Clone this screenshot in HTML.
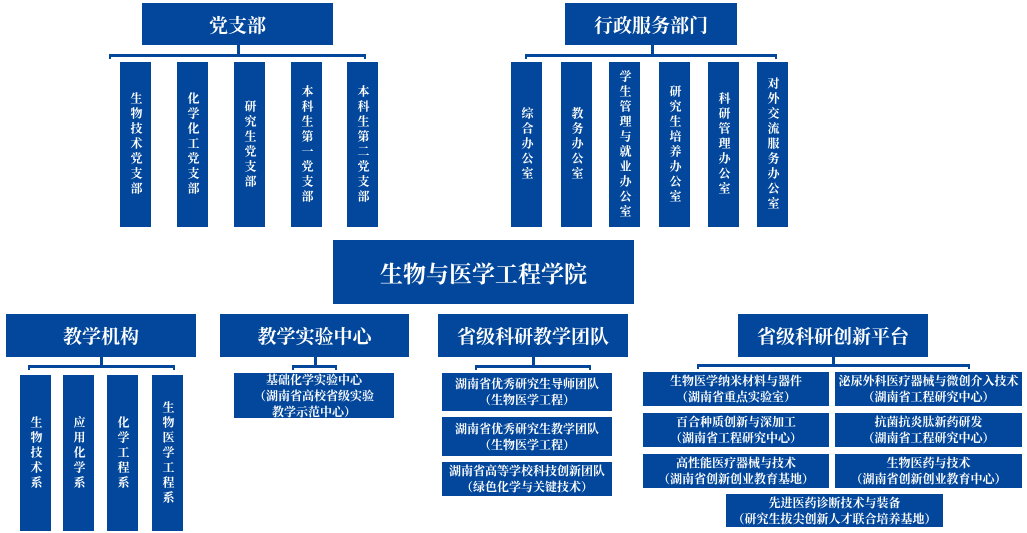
<!DOCTYPE html>
<html><head><meta charset="utf-8"><style>
body{margin:0;width:1027px;height:533px;background:#fff;position:relative;overflow:hidden;font-family:"Liberation Serif","Noto Serif CJK SC",serif;font-weight:bold;color:#fff}
.b{position:absolute;background:#02479b;display:flex;align-items:center;justify-content:center;text-align:center;box-sizing:border-box}
.h{font-size:19px}
.v{font-size:12px;line-height:17px;width:31px;writing-mode:vertical-rl;letter-spacing:3px}
.s{font-size:12px;line-height:16px;flex-direction:column}
.l{position:absolute;background:#02479b}
</style></head><body>
<div class="b h" style="left:142px;top:3px;width:191px;height:42px">党支部</div>
<div class="l" style="left:237px;top:45px;width:3px;height:10px"></div>
<div class="l" style="left:109px;top:54px;width:257px;height:3px"></div>
<div class="l" style="left:109px;top:54px;width:2px;height:5px"></div>
<div class="l" style="left:364px;top:54px;width:2px;height:5px"></div>
<div class="b v" style="left:120px;top:62px;height:165px">生物技术党支部</div>
<div class="b v" style="left:177px;top:62px;height:165px">化学化工党支部</div>
<div class="b v" style="left:234px;top:62px;height:165px">研究生党支部</div>
<div class="b v" style="left:291px;top:62px;height:165px">本科生第一党支部</div>
<div class="b v" style="left:347px;top:62px;height:165px">本科生第二党支部</div>

<div class="b h" style="left:565px;top:3px;width:172px;height:42px">行政服务部门</div>
<div class="l" style="left:651px;top:45px;width:3px;height:10px"></div>
<div class="l" style="left:525px;top:54px;width:252px;height:3px"></div>
<div class="l" style="left:525px;top:54px;width:2px;height:5px"></div>
<div class="l" style="left:775px;top:54px;width:2px;height:5px"></div>
<div class="b v" style="left:511px;top:62px;height:165px">综合办公室</div>
<div class="b v" style="left:561px;top:62px;height:165px">教务办公室</div>
<div class="b v" style="left:609px;top:62px;height:165px">学生管理与就业办公室</div>
<div class="b v" style="left:659px;top:62px;height:165px">研究生培养办公室</div>
<div class="b v" style="left:708px;top:62px;height:165px">科研管理办公室</div>
<div class="b v" style="left:757px;top:62px;height:165px">对外交流服务办公室</div>

<div class="b" style="left:333px;top:240px;width:301px;height:64px;font-size:23px">生物与医学工程学院</div>

<div class="b h" style="left:6px;top:314px;width:190px;height:43px">教学机构</div>
<div class="l" style="left:100px;top:357px;width:3px;height:9px"></div>
<div class="l" style="left:28px;top:365px;width:147px;height:3px"></div>
<div class="l" style="left:28px;top:365px;width:2px;height:5px"></div>
<div class="l" style="left:173px;top:365px;width:2px;height:5px"></div>
<div class="b v" style="left:20px;top:375px;height:156px">生物技术系</div>
<div class="b v" style="left:63px;top:375px;height:156px">应用化学系</div>
<div class="b v" style="left:107px;top:375px;height:156px">化学工程系</div>
<div class="b v" style="left:152px;top:375px;height:156px">生物医学工程系</div>

<div class="b h" style="left:220px;top:314px;width:189px;height:43px">教学实验中心</div>
<div class="l" style="left:314px;top:357px;width:3px;height:9px"></div>
<div class="l" style="left:292px;top:365px;width:45px;height:3px"></div>
<div class="l" style="left:292px;top:365px;width:2px;height:5px"></div>
<div class="l" style="left:335px;top:365px;width:2px;height:5px"></div>
<div class="b s" style="left:234px;top:373px;width:160px;height:45px">基础化学实验中心<br>（湖南省高校省级实验<br>教学示范中心）</div>

<div class="b h" style="left:438px;top:314px;width:190px;height:43px">省级科研教学团队</div>
<div class="l" style="left:532px;top:357px;width:3px;height:9px"></div>
<div class="l" style="left:475px;top:365px;width:116px;height:3px"></div>
<div class="l" style="left:475px;top:365px;width:2px;height:5px"></div>
<div class="l" style="left:589px;top:365px;width:2px;height:5px"></div>
<div class="b s" style="left:442px;top:373px;width:170px;height:38px">湖南省优秀研究生导师团队<br>（生物医学工程）</div>
<div class="b s" style="left:442px;top:417px;width:170px;height:39px">湖南省优秀研究生教学团队<br>（生物医学工程）</div>
<div class="b s" style="left:442px;top:462px;width:170px;height:34px">湖南省高等学校科技创新团队<br>（绿色化学与关键技术）</div>

<div class="b h" style="left:738px;top:314px;width:190px;height:43px">省级科研创新平台</div>
<div class="l" style="left:832px;top:357px;width:3px;height:9px"></div>
<div class="l" style="left:697px;top:364px;width:273px;height:3px"></div>
<div class="l" style="left:697px;top:364px;width:2px;height:5px"></div>
<div class="l" style="left:968px;top:364px;width:2px;height:5px"></div>
<div class="b s" style="left:643px;top:372px;width:186px;height:34px">生物医学纳米材料与器件<br>（湖南省重点实验室）</div>
<div class="b s" style="left:835px;top:372px;width:187px;height:34px">泌尿外科医疗器械与微创介入技术<br>（湖南省工程研究中心）</div>
<div class="b s" style="left:643px;top:413px;width:186px;height:34px">百合种质创新与深加工<br>（湖南省工程研究中心）</div>
<div class="b s" style="left:835px;top:413px;width:187px;height:34px">抗菌抗炎肽新药研发<br>（湖南省工程研究中心）</div>
<div class="b s" style="left:643px;top:454px;width:186px;height:34px">高性能医疗器械与技术<br>（湖南省创新创业教育基地）</div>
<div class="b s" style="left:835px;top:454px;width:187px;height:34px">生物医药与技术<br>（湖南省创新创业教育中心）</div>
<div class="b s" style="left:726px;top:494px;width:217px;height:33px">先进医药诊断技术与装备<br>（研究生拔尖创新人才联合培养基地）</div>
</body></html>
